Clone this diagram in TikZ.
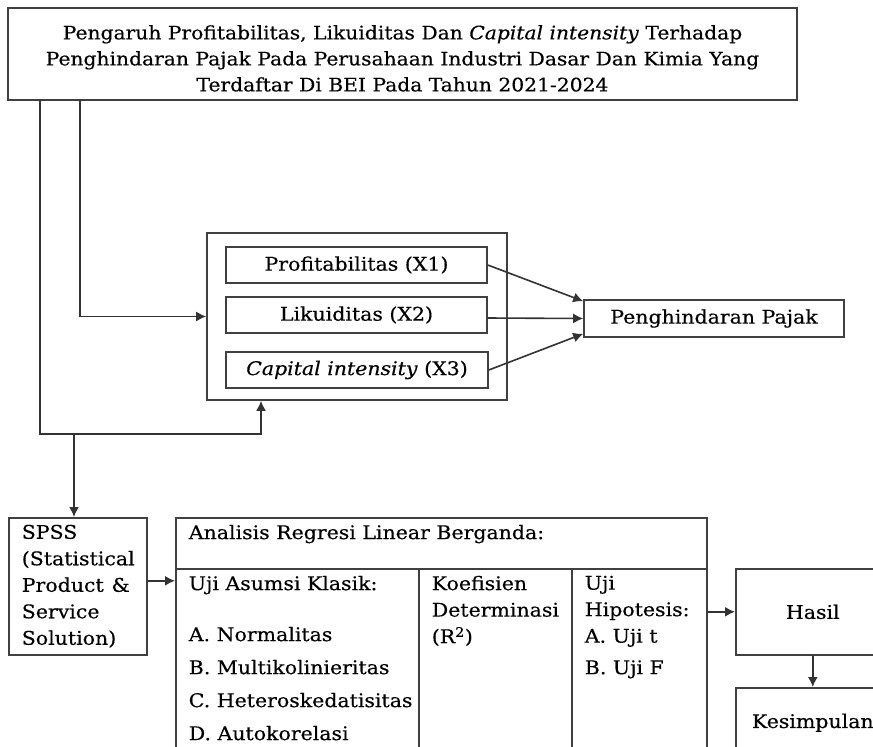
\documentclass[tikz,border=0pt]{standalone}
\usepackage{fontspec}
\setmainfont{DejaVu Serif}[FakeStretch=1.09, FakeBold=0.4]
\usepackage{tikz}
\usetikzlibrary{arrows.meta}

\newcommand{\isifont}{\fontsize{18.8}{26.5}\selectfont}
\newcommand{\judulfont}{\fontsize{18.6}{26}\selectfont}
\newcommand{\isikolom}[3]{\parbox[t][#2][t]{#1}{\raggedright #3}}

\begin{document}
\begin{tikzpicture}[x=1pt,y=-1pt]
		\tikzset{block/.style = {draw=black!75, line width=1.6pt, inner sep=0pt}}
		\tikzset{kolom/.style = {block, anchor=north west, inner xsep=13pt, inner ysep=7pt, font=\isifont}}
		\tikzset{edge/.style = {draw=black!80, line width=1.6pt, -{Latex[length=10pt,width=10pt]}}}

		\useasboundingbox (0,0) rectangle (873,747);
		\clip (0,0) rectangle (873,747);

		\node[block, minimum width=789pt, minimum height=92pt, align=center, font=\judulfont] (Judul) at (402.5,54) {\rule{0pt}{23pt}Pengaruh Profitabilitas, Likuiditas Dan \textit{Capital intensity} Terhadap\\ Penghindaran Pajak Pada Perusahaan Industri Dasar Dan Kimia Yang\\ Terdaftar Di BEI Pada Tahun 2021-2024};

		\node[block, minimum width=300pt, minimum height=167pt] (Var) at (357,316.5) {};
		\node[block, minimum width=261pt, minimum height=36pt, font=\isifont] (X1) at (356.5,265) {Profitabilitas (X1)};
		\node[block, minimum width=261pt, minimum height=36pt, font=\isifont] (X2) at (356.5,315) {Likuiditas (X2)};
		\node[block, minimum width=262pt, minimum height=36pt, font=\isifont] (X3) at (357,370) {\textit{Capital intensity} (X3)};
		\node[block, minimum width=260pt, minimum height=37pt, font=\isifont] (Y) at (714,318.5) {Penghindaran Pajak};

		\node[kolom] (SPSS) at (8,517) {\isikolom{112pt}{123pt}{SPSS\\ (Statistical\\ \makebox[108pt][s]{Product \&}\\ Service\\ Solution)}};
		\node[kolom] (Analisis) at (175,517) {\isikolom{505pt}{37pt}{Analisis Regresi Linear Berganda:}};
		\node[kolom] (UjiAsumsi) at (175,568) {\isikolom{217pt}{200pt}{Uji Asumsi Klasik:\\[24.5pt] A. Normalitas\\[6.5pt] \mbox{B. Multikolinieritas}\\[6.5pt] \mbox{C. Heteroskedatisitas}\\[6.5pt] D. Autokorelasi}};
		\node[kolom] (Koefisien) at (418,568) {\isikolom{127pt}{200pt}{Koefisien\\ \mbox{Determinasi}\\ (R\textsuperscript{2})}};
		\node[kolom] (UjiHipotesis) at (571,568) {\isikolom{109pt}{200pt}{Uji\\ Hipotesis:\\ A. Uji t\\[5pt] B. Uji F}};
		\node[block, anchor=north west, minimum width=154pt, minimum height=86pt, font=\isifont] (Hasil) at (735,568) {Hasil};
		\node[block, anchor=north west, minimum width=154pt, minimum height=70pt, font=\isifont] (Kesimpulan) at (735,687) {Kesimpulan};

		\coordinate (a1) at (80,100);
		\coordinate (b1) at (40,100);
		\coordinate (b2) at (261,434);
		\coordinate (b3) at (74,434);

		\draw[edge] (a1) |- (Var.west);
		\draw[edge] (b1) |- (b2) -- (b2 |- Var.south);
		\draw[edge] (b3) -- (b3 |- SPSS.north);

		\draw[edge] (X1.east) to ([yshift=-2pt]Y.north west);
		\draw[edge] ([yshift=-3pt]X2.east) to (Y.west);
		\draw[edge] (X3.east) to ([yshift=4pt]Y.south west);

		\draw[edge] ([yshift=5.5pt]SPSS.east) -- ([yshift=5.5pt]SPSS.east -| UjiAsumsi.west);
		\draw[edge] (UjiHipotesis.east |- Hasil.west) -- (Hasil.west);
		\draw[edge] (Hasil.south) -- (Kesimpulan.north);

	\end{tikzpicture}
\end{document}
